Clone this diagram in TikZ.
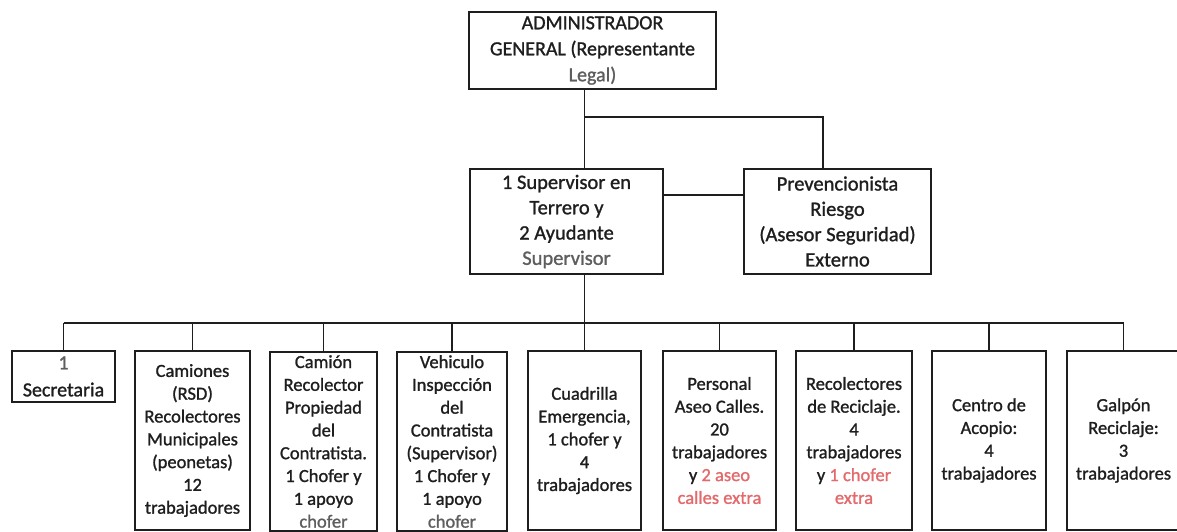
\documentclass[tikz,border=0pt]{standalone}
\usepackage{fontspec}
\setmainfont{Carlito}[RawFeature={embolden=1.2}]
\usetikzlibrary{calc}
\definecolor{ink}{HTML}{1E1E1E}
\definecolor{faded}{HTML}{5E5E5E}
\definecolor{redx}{HTML}{E36A6C}
\tikzset{
  box/.style={draw=ink, line width=1.8pt, inner sep=0pt, align=center, text=ink},
  topf/.style={font=\fontsize{20}{26}\selectfont},
  midf/.style={font=\fontsize{20.5}{25.3}\selectfont},
  lowf/.style={font=\fontsize{18.5}{22.8}\selectfont},
  tall/.style={box, lowf, minimum height=179},
  link/.style={draw=ink, line width=1.8pt}
}
\begin{document}
\begin{tikzpicture}[x=1pt,y=-1pt]
\useasboundingbox (0,0) rectangle (1177,532);
% upper levels
\node[box,topf,minimum width=247,minimum height=77] (top) at (592.5,50.5)
  {ADMINISTRADOR\\GENERAL (Representante\\\textcolor{faded}{Legal)}};
\node[box,midf,minimum width=193,minimum height=105] (sup) at (566.5,221.5)
  {1 Supervisor en\\Terrero y\\2 Ayudante\\\textcolor{faded}{Supervisor}};
\node[box,midf,minimum width=187,minimum height=105] (prev) at (837.5,221.5)
  {Prevencionista\\Riesgo\\(Asesor Seguridad)\\Externo};
% bottom row
\node[box,font=\fontsize{20}{27}\selectfont,minimum width=103,minimum height=51] (b1) at (63.5,376.5)
  {\textcolor{faded}{1}\\Secretaria};
\node[tall,minimum width=115] (b2) at (192.5,440.5)
  {Camiones\\(RSD)\\Recolectores\\Municipales\\(peonetas)\\12\\trabajadores};
\node[tall,minimum width=107] (b3) at (323.5,441.5)
  {Camión\\Recolector\\Propiedad\\del\\Contratista.\\1 Chofer y\\1 apoyo\\\textcolor{faded}{chofer}};
\node[tall,minimum width=110] (b4) at (452,441.5)
  {Vehiculo\\Inspección\\del\\Contratista\\(Supervisor)\\1 Chofer y\\1 apoyo\\\textcolor{faded}{chofer}};
\node[tall,minimum width=113] (b5) at (584.5,440.5)
  {Cuadrilla\\Emergencia,\\1 chofer y\\4\\trabajadores};
\node[tall,minimum width=113] (b6) at (719.5,440.5)
  {Personal\\Aseo Calles.\\20\\trabajadores\\y \textcolor{redx}{2 aseo}\\\textcolor{redx}{calles extra}};
\node[tall,minimum width=116] (b7) at (854,440.5)
  {Recolectores\\de Reciclaje.\\4\\trabajadores\\y \textcolor{redx}{1 chofer}\\\textcolor{redx}{extra}};
\node[tall,minimum width=114] (b8) at (989,440.5)
  {Centro de\\Acopio:\\4\\trabajadores};
\node[tall,minimum width=113] (b9) at (1123.5,440.5)
  {Galpón\\Reciclaje:\\3\\trabajadores};
% connectors
\coordinate (bus) at (0,323);
\coordinate (upbus) at (0,117);
\coordinate (prevtop) at ($(prev.north)+(-14.5,0)$);
\draw[link] (top.south -| b5.north) -- (sup.north -| b5.north);
\draw[link] (upbus -| b5.north) -| (prevtop);
\draw[link] ($(sup.east)+(0,-26.5)$) -- ($(prev.west)+(0,-26.5)$);
\draw[link] (sup.south -| b5.north) -- (b5.north);
\draw[link] (b1.north |- bus) -- (b9.north |- bus);
\foreach \b in {b1,b2,b3,b4,b6,b7,b8,b9}
  \draw[link] (\b.north |- bus) -- (\b.north);
\end{tikzpicture}
\end{document}
